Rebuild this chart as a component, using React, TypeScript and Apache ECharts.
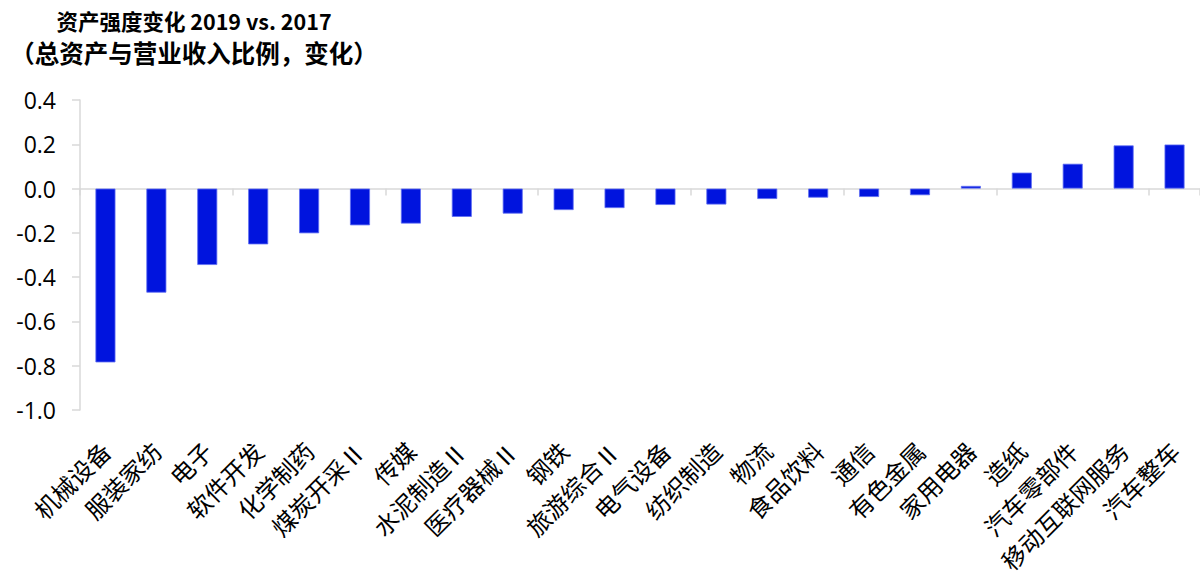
import React, { useEffect, useRef } from "react";
import * as echarts from "echarts";

const titleLine1 = "资产强度变化 2019 vs. 2017";
const titleLine2 = "（总资产与营业收入比例，变化）";

const categories = [
  "机械设备", "服装家纺", "电子", "软件开发", "化学制药", "煤炭开采Ⅱ", "传媒",
  "水泥制造Ⅱ", "医疗器械Ⅱ", "钢铁", "旅游综合Ⅱ", "电气设备", "纺织制造", "物流",
  "食品饮料", "通信", "有色金属", "家用电器", "造纸", "汽车零部件", "移动互联网服务", "汽车整车",
];

const values = [
  -0.785, -0.47, -0.345, -0.252, -0.202, -0.166, -0.158, -0.128, -0.113, -0.097,
  -0.088, -0.074, -0.072, -0.047, -0.041, -0.038, -0.03, 0.012, 0.072, 0.112, 0.195, 0.199,
];

const yMin = -1.0;
const yMax = 0.4;
const yStep = 0.2;

export default function App() {
  const ref = useRef<HTMLDivElement>(null);
  useEffect(() => {
    if (!ref.current) return;
    const chart = echarts.init(ref.current, null, { renderer: "svg" });
    const gray = "#d9d9d9";
    chart.setOption({
      animation: false,
      backgroundColor: "#ffffff",
      graphic: [
        {
          type: "text",
          x: 194,
          y: 10,
          style: {
            text: titleLine1,
            textAlign: "center",
            fill: "#000",
            font: "bold 21.5px 'Noto Sans CJK SC', 'Open Sans', sans-serif",
          },
        },
        {
          type: "text",
          x: 194,
          y: 40,
          style: {
            text: titleLine2,
            textAlign: "center",
            fill: "#000",
            font: "bold 24.5px 'Noto Sans CJK SC', sans-serif",
          },
        },
      ],
      grid: { left: 80, top: 100, width: 1127, height: 310, containLabel: false },
      xAxis: [
        {
          type: "category",
          data: categories,
          axisLine: { show: true, onZero: true, lineStyle: { color: gray, width: 1.5 } },
          axisTick: { show: true, alignWithLabel: false, length: 7, lineStyle: { color: gray, width: 1.5 } },
          axisLabel: { show: false },
          splitLine: { show: false },
        },
        {
          type: "category",
          data: categories,
          position: "bottom",
          axisLine: { show: false, onZero: false },
          axisTick: { show: false },
          axisLabel: {
            show: true,
            interval: 0,
            rotate: 45,
            margin: 36,
            color: "#000",
            fontSize: 24,
            fontFamily: "'Noto Sans CJK SC', sans-serif",
          },
          splitLine: { show: false },
        },
      ],
      yAxis: {
        type: "value",
        min: yMin,
        max: yMax,
        interval: yStep,
        axisLine: { show: true, lineStyle: { color: gray, width: 1.5 } },
        axisTick: { show: true, length: 8, lineStyle: { color: gray, width: 1.5 } },
        splitLine: { show: false },
        axisLabel: {
          margin: 24,
          color: "#000",
          fontSize: 23,
          fontFamily: "'Open Sans', sans-serif",
          formatter: (v: number) => v.toFixed(1),
        },
      },
      series: [
        {
          type: "bar",
          xAxisIndex: 0,
          data: values,
          barWidth: 20,
          itemStyle: { color: "#0014DE", borderColor: "#5f6ef2", borderWidth: 0.8 },
        },
      ],
    });
    return () => chart.dispose();
  }, []);
  return (
    <div
      ref={ref}
      style={{ position: "absolute", left: 0, top: 0, width: 1200, height: 576, overflow: "hidden", background: "#fff" }}
    />
  );
}
